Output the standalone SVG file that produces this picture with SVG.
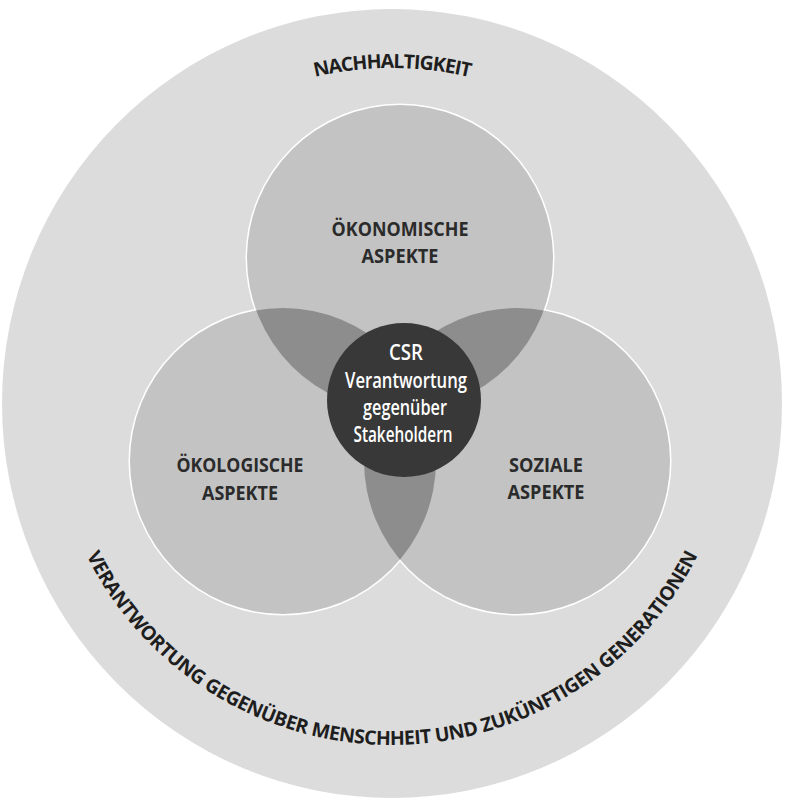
<svg xmlns="http://www.w3.org/2000/svg" width="789" height="802" viewBox="0 0 789 802">
  <style>
    .lbl { font-family: "Open Sans", "Liberation Sans", sans-serif; font-weight: 700; font-size: 20px; fill: #2b2b2b; text-anchor: middle; }
    .csr { font-family: "Open Sans", "Liberation Sans", sans-serif; font-weight: 600; font-size: 21px; fill: #ffffff; text-anchor: middle; }
    .arc { font-family: "Open Sans", "Liberation Sans", sans-serif; font-weight: 700; font-size: 19.5px; fill: #1e1e1e; }
    .venn { fill: #c3c3c3; }
    .outline { fill: none; stroke: #ffffff; stroke-width: 3; }
    .lens { fill: #8d8d8d; }
  </style>
  <defs>
    <path id="topArc" d="M 56 404 A 336 336 0 0 1 728 404"/>
    <path id="botArc" d="M 51 404 A 341 341 0 0 0 733 404"/>
    <clipPath id="clipTop"><circle cx="400" cy="258" r="153"/></clipPath>
    <clipPath id="clipLeft"><circle cx="283" cy="461" r="153"/></clipPath>
  </defs>
  <rect width="789" height="802" fill="#ffffff"/>

  <g id="nachhaltigkeit">
    <ellipse cx="392" cy="403.5" rx="390" ry="394.5" fill="#dcdcdc"/>
    <text class="arc"><textPath href="#topArc" startOffset="50%" text-anchor="middle" letter-spacing="-1">NACHHALTIGKEIT</textPath></text>
    <text class="arc"><textPath href="#botArc" startOffset="50%" text-anchor="middle" letter-spacing="-0.5">VERANTWORTUNG GEGENÜBER MENSCHHEIT UND ZUKÜNFTIGEN GENERATIONEN</textPath></text>
  </g>

  <g id="venn-outline">
    <circle class="outline" cx="400" cy="258" r="153"/>
    <circle class="outline" cx="283" cy="461" r="153"/>
    <circle class="outline" cx="517" cy="461" r="153"/>
  </g>

  <g id="oekonomisch">
    <circle class="venn" cx="400" cy="258" r="153"/>
  </g>
  <g id="oekologisch">
    <circle class="venn" cx="283" cy="461" r="153"/>
  </g>
  <g id="sozial">
    <circle class="venn" cx="517" cy="461" r="153"/>
  </g>

  <g id="overlaps">
    <circle class="lens" cx="283" cy="461" r="153" clip-path="url(#clipTop)"/>
    <circle class="lens" cx="517" cy="461" r="153" clip-path="url(#clipTop)"/>
    <circle class="lens" cx="517" cy="461" r="153" clip-path="url(#clipLeft)"/>
  </g>

  <g id="labels">
    <text class="lbl" x="400" y="236" textLength="137" lengthAdjust="spacingAndGlyphs">ÖKONOMISCHE</text>
    <text class="lbl" x="400" y="263" textLength="77" lengthAdjust="spacingAndGlyphs">ASPEKTE</text>
    <text class="lbl" x="240" y="472" textLength="127" lengthAdjust="spacingAndGlyphs">ÖKOLOGISCHE</text>
    <text class="lbl" x="240" y="500" textLength="76" lengthAdjust="spacingAndGlyphs">ASPEKTE</text>
    <text class="lbl" x="546" y="472" textLength="74" lengthAdjust="spacingAndGlyphs">SOZIALE</text>
    <text class="lbl" x="546" y="499" textLength="77" lengthAdjust="spacingAndGlyphs">ASPEKTE</text>
  </g>

  <g id="csr">
    <circle cx="404" cy="400" r="77" fill="#383838"/>
    <text class="csr" x="406" y="360" textLength="34" lengthAdjust="spacingAndGlyphs">CSR</text>
    <text class="csr" x="406" y="388" textLength="122" lengthAdjust="spacingAndGlyphs">Verantwortung</text>
    <text class="csr" x="405" y="415" textLength="84" lengthAdjust="spacingAndGlyphs">gegenüber</text>
    <text class="csr" x="403" y="442" textLength="99" lengthAdjust="spacingAndGlyphs">Stakeholdern</text>
  </g>
</svg>
